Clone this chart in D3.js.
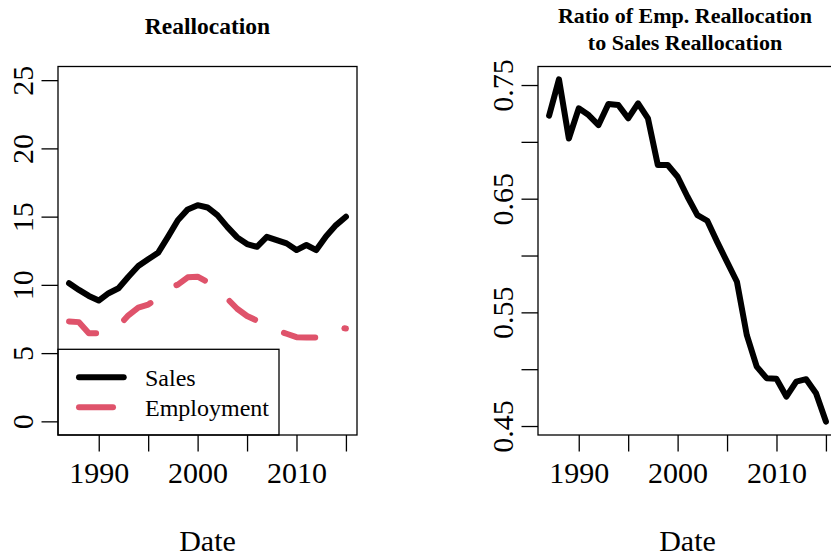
<!DOCTYPE html>
<html>
<head>
<meta charset="utf-8">
<script src="https://cdn.jsdelivr.net/npm/d3@7"></script>
<style>
  html, body { margin: 0; padding: 0; background: #fff; }
  svg { display: block; }
  svg text { font-family: "Liberation Serif", "Times New Roman", serif; fill: #000; }
  .tick text { font-size: 30px; }
</style>
</head>
<body>
<div id="chart"></div>
<script>
// ---------------- data ----------------
const years = [1987, 1988, 1989, 1990, 1991, 1992, 1993, 1994, 1995, 1996,
               1997, 1998, 1999, 2000, 2001, 2002, 2003, 2004, 2005, 2006,
               2007, 2008, 2009, 2010, 2011, 2012, 2013, 2014, 2015];
const salesRealloc = [10.12, 9.63, 9.19, 8.85, 9.39, 9.75, 10.60, 11.38, 11.87, 12.35,
                      13.52, 14.74, 15.53, 15.84, 15.67, 15.11, 14.25, 13.48, 12.99, 12.79,
                      13.52, 13.28, 13.04, 12.55, 12.92, 12.55, 13.57, 14.38, 14.99];
const empRealloc = [7.32, 7.27, 6.46, 6.46, 6.79, 6.97, 7.77, 8.33, 8.55, 9.06,
                    9.74, 10.02, 10.55, 10.60, 10.21, 9.60, 8.99, 8.25, 7.72, 7.38,
                    7.16, 6.67, 6.42, 6.17, 6.15, 6.14, 6.67, 6.89, 6.80];
const ratioRealloc = [0.723, 0.755, 0.703, 0.7295, 0.7236, 0.7148, 0.7333, 0.7324, 0.7207, 0.7339,
                      0.7207, 0.6796, 0.6796, 0.6693, 0.6517, 0.6356, 0.6306, 0.612, 0.5944, 0.5769,
                      0.5299, 0.5023, 0.4921, 0.4915, 0.4759, 0.4891, 0.4912, 0.4789, 0.4539];

const xTicks = [1990, 1995, 2000, 2005, 2010, 2015];
const xTickLabels = ["1990", "", "2000", "", "2010", ""];
const yTicksLeft = [0, 5, 10, 15, 20, 25];
const yTickLabelsLeft = ["0", "5", "10", "15", "20", "25"];
const yTicksRight = [0.45, 0.50, 0.55, 0.60, 0.65, 0.70, 0.75];
const yTickLabelsRight = ["0.45", "", "0.55", "", "0.65", "", "0.75"];

const seriesNames = ["Sales", "Employment"];
const seriesColors = ["#000000", "#DF536B"];
const titleLeft = "Reallocation";
const titleRight = ["Ratio of Emp. Reallocation", "to Sales Reallocation"];
const xLabel = "Date";

// ---------------- layout ----------------
const W = 831, H = 558;
const plotTop = 66.5, plotBottom = 435, plotW = 299;
const leftX0 = 58, rightX0 = 538;
const xDomain = [1985.88, 2016.12];
const yDomainLeft = [-1, 26];
const yDomainRight = [0.4421, 0.7663];
const tickLen = 16.5;
const dash = "32,32";

const svg = d3.select("#chart").append("svg")
  .attr("width", W).attr("height", H)
  .attr("viewBox", `0 0 ${W} ${H}`);

function panel(x0, yDomain, yTicks, yLabels) {
  const g = svg.append("g");
  const x = d3.scaleLinear().domain(xDomain).range([x0, x0 + plotW]);
  const y = d3.scaleLinear().domain(yDomain).range([plotBottom, plotTop]);

  // x axis
  const xa = g.append("g").attr("transform", `translate(0,${plotBottom})`)
    .call(d3.axisBottom(x).tickValues(xTicks).tickSize(tickLen)
      .tickFormat((d, i) => xTickLabels[i]));
  xa.attr("font-family", null).attr("font-size", null);
  xa.select(".domain").remove();
  xa.selectAll(".tick line").attr("stroke", "#000").attr("stroke-width", 1.3);
  xa.selectAll(".tick text").attr("y", 48).attr("dy", 0).attr("fill", "#000");

  // y axis
  const ya = g.append("g").attr("transform", `translate(${x0},0)`)
    .call(d3.axisLeft(y).tickValues(yTicks).tickSize(tickLen)
      .tickFormat((d, i) => yLabels[i]));
  ya.attr("font-family", null).attr("font-size", null);
  ya.select(".domain").remove();
  ya.selectAll(".tick line").attr("stroke", "#000").attr("stroke-width", 1.3);
  ya.selectAll(".tick text")
    .attr("x", null).attr("dy", null)
    .attr("text-anchor", "middle")
    .attr("transform", "translate(-25,0) rotate(-90)")
    .attr("fill", "#000");

  // frame
  g.append("rect")
    .attr("x", x0).attr("y", plotTop)
    .attr("width", plotW).attr("height", plotBottom - plotTop)
    .attr("fill", "none").attr("stroke", "#000").attr("stroke-width", 1.3);

  // x label
  g.append("text").attr("x", x0 + plotW / 2).attr("y", 550.7)
    .attr("text-anchor", "middle").style("font-size", "30px").text(xLabel);

  return { g, x, y };
}

// ---------------- left panel ----------------
const L = panel(leftX0, yDomainLeft, yTicksLeft, yTickLabelsLeft);
const lineL = (vals) => d3.line().x((d, i) => L.x(years[i])).y(d => L.y(d))(vals);

L.g.append("path").attr("d", lineL(empRealloc))
  .attr("fill", "none").attr("stroke", seriesColors[1]).attr("stroke-width", 6)
  .attr("stroke-linecap", "round").attr("stroke-linejoin", "round")
  .attr("stroke-dasharray", dash);
L.g.append("path").attr("d", lineL(salesRealloc))
  .attr("fill", "none").attr("stroke", seriesColors[0]).attr("stroke-width", 6)
  .attr("stroke-linecap", "round").attr("stroke-linejoin", "round");

L.g.append("text").attr("x", leftX0 + plotW / 2).attr("y", 34.3)
  .attr("text-anchor", "middle").style("font-size", "23.5px").style("font-weight", "bold")
  .text(titleLeft);

// legend
const leg = L.g.append("g");
leg.append("rect").attr("x", leftX0).attr("y", 349.3)
  .attr("width", 221).attr("height", plotBottom - 349.3)
  .attr("fill", "none").attr("stroke", "#000").attr("stroke-width", 1.3);
const legYs = [377.3, 407.3];
seriesNames.forEach((name, i) => {
  leg.append("line").attr("x1", 79).attr("x2", 123.7)
    .attr("y1", legYs[i]).attr("y2", legYs[i])
    .attr("stroke", seriesColors[i]).attr("stroke-width", 6)
    .attr("stroke-linecap", "round")
    .attr("stroke-dasharray", i === 1 ? "34,34" : null);
  leg.append("text").attr("x", 145).attr("y", legYs[i] + 8.6)
    .style("font-size", "24px").text(name);
});

// ---------------- right panel ----------------
const R = panel(rightX0, yDomainRight, yTicksRight, yTickLabelsRight);
R.g.append("path")
  .attr("d", d3.line().x((d, i) => R.x(years[i])).y(d => R.y(d))(ratioRealloc))
  .attr("fill", "none").attr("stroke", "#000").attr("stroke-width", 6)
  .attr("stroke-linecap", "round").attr("stroke-linejoin", "round");

const tr = R.g.append("text").attr("text-anchor", "middle")
  .style("font-size", "22px").style("font-weight", "bold");
titleRight.forEach((t, i) => {
  tr.append("tspan").attr("x", rightX0 + plotW / 2 - 2.5).attr("y", 22.7 + i * 27.3).text(t);
});
</script>
</body>
</html>
